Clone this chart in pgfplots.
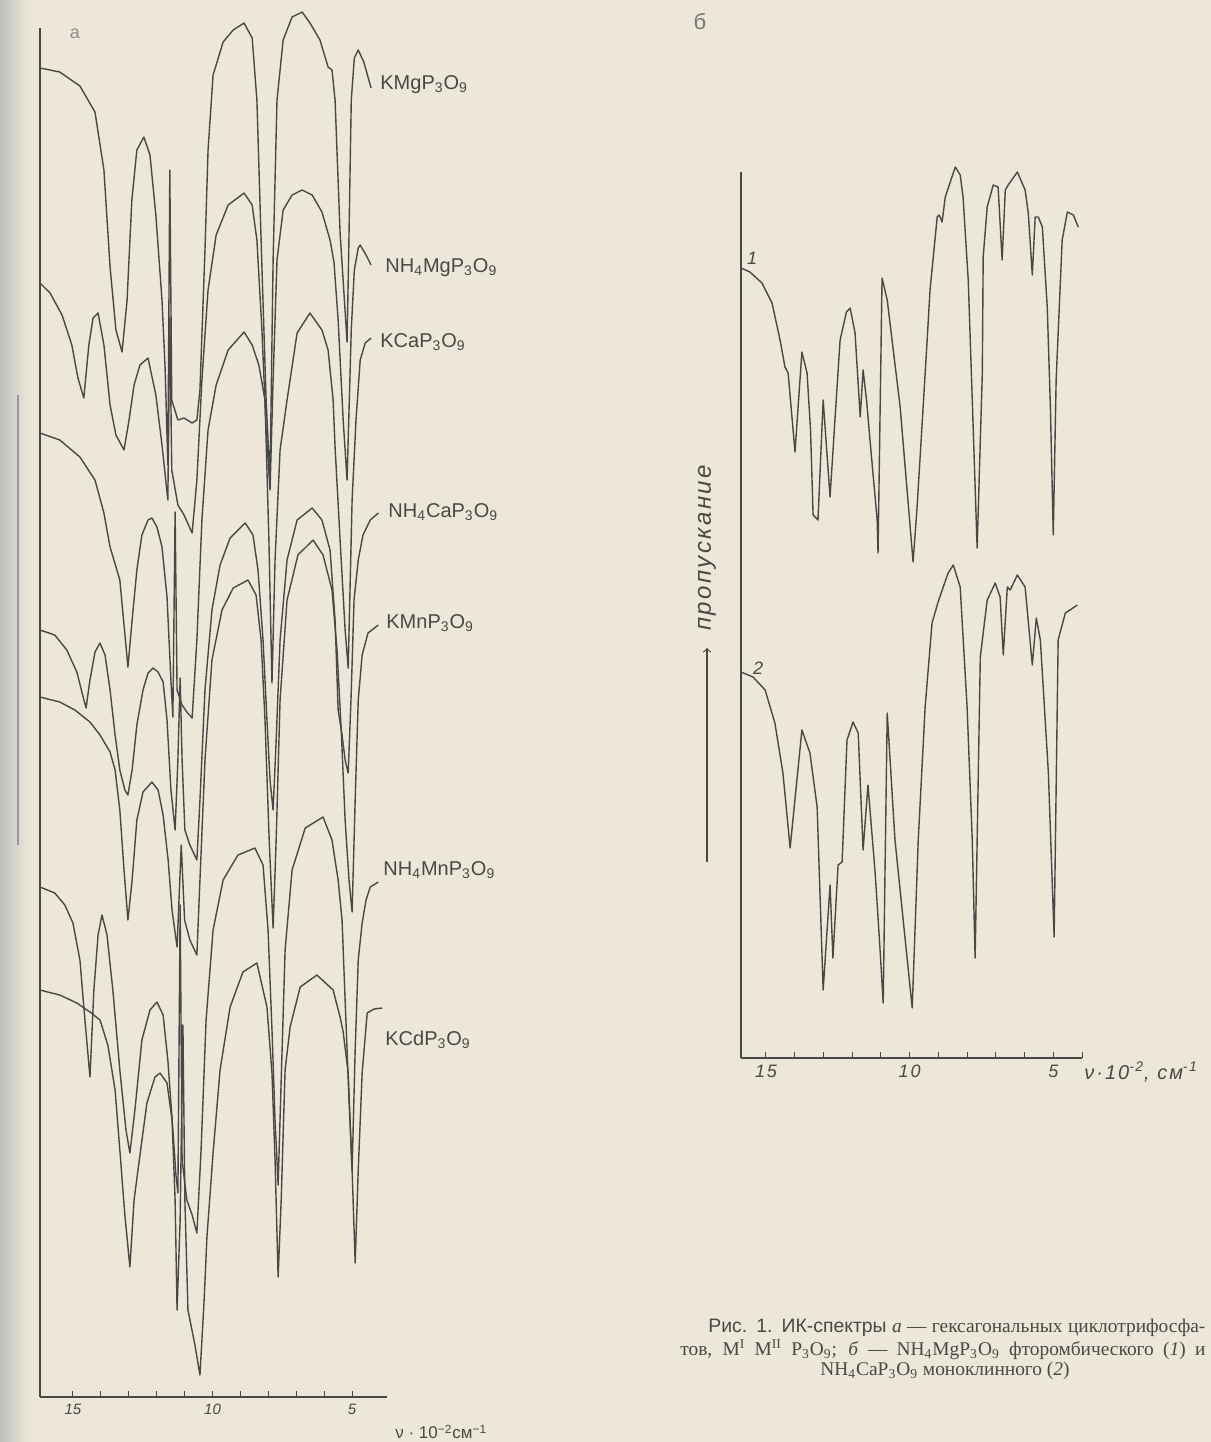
\documentclass[border=0pt]{standalone}
\usepackage{fontspec}
\setmainfont{Liberation Serif}
\setsansfont{Liberation Sans}
\newfontfamily\hand[LetterSpace=10]{Liberation Sans}
\usepackage{pgfplots}
\pgfplotsset{compat=1.18}
\definecolor{paper}{RGB}{236,231,216}
\definecolor{ink}{RGB}{72,72,70}
\pgfplotsset{spec/.style={ink, line width=0.7pt, line join=round, mark=none}}
\begin{document}
\begin{tikzpicture}
\path[use as bounding box] (0,0) rectangle (605.5pt,-721pt);
\fill[paper] (0,0) rectangle (605.5pt,-721pt);
\shade[left color=black!25, right color=paper] (0,0) rectangle (14pt,-721pt);
\draw[black!40, line width=1pt] (9pt,-197.5pt) -- (9pt,-422.5pt);

% ---------------- panel a ----------------
\begin{axis}[
  at={(20pt,-698.5pt)}, anchor=south west,
  width=173.5pt, height=684.5pt, scale only axis,
  x dir=reverse, xmin=3.75, xmax=16.18, ymin=-1397, ymax=-28,
  axis x line=bottom, axis y line=left,
  axis line style={-, ink, line width=0.6pt},
  xtick={5,...,15}, xticklabels={5,,,,,10,,,,,15}, ytick=\empty,
  xtick align=inside, major tick length=3pt,
  tick style={ink, line width=0.5pt},
  xticklabel style={font=\sffamily\itshape\fontsize{7.5}{8}\selectfont, text=ink},
  clip=false]
% KMgP3O9
\addplot[spec] coordinates {(16.18,-68)(15.47,-72)(14.75,-86)(14.21,-112)(13.89,-170)(13.67,-267)(13.46,-330)(13.24,-352)(13.06,-300)(12.89,-200)(12.71,-150)(12.46,-137)(12.24,-155)(12.03,-215)(11.81,-300)(11.70,-367)(11.60,-465)(11.53,-170)(11.46,-400)(11.24,-420)(11.02,-418)(10.73,-423)(10.56,-420)(10.45,-390)(10.27,-250)(10.16,-150)(9.98,-75)(9.62,-42)(9.26,-30)(8.87,-23)(8.58,-38)(8.41,-100)(8.23,-267)(8.08,-400)(7.94,-480)(7.83,-260)(7.69,-100)(7.47,-40)(7.15,-17)(6.79,-12)(6.51,-23)(6.15,-40)(5.86,-67)(5.72,-70)(5.61,-100)(5.43,-233)(5.18,-342)(5.12,-250)(5.03,-100)(4.92,-58)(4.78,-50)(4.58,-62)(4.32,-88)};
% NH4MgP3O9
\addplot[spec] coordinates {(16.18,-283)(15.82,-293)(15.39,-315)(15.04,-345)(14.82,-378)(14.61,-398)(14.43,-345)(14.28,-318)(14.10,-313)(13.89,-345)(13.67,-405)(13.46,-435)(13.17,-450)(12.99,-420)(12.81,-385)(12.60,-365)(12.31,-358)(12.03,-395)(11.81,-445)(11.60,-500)(11.53,-318)(11.46,-470)(11.24,-505)(11.02,-515)(10.73,-533)(10.56,-480)(10.38,-380)(10.16,-290)(9.87,-235)(9.44,-205)(8.87,-193)(8.58,-205)(8.41,-240)(8.23,-330)(8.08,-430)(7.94,-490)(7.83,-380)(7.69,-260)(7.47,-210)(7.15,-195)(6.79,-190)(6.43,-195)(6.08,-212)(5.79,-240)(5.65,-262)(5.50,-320)(5.32,-420)(5.18,-480)(5.10,-400)(5.03,-330)(4.92,-270)(4.78,-248)(4.71,-245)(4.50,-255)(4.32,-265)};
% KCaP3O9
\addplot[spec] coordinates {(16.18,-433)(15.47,-440)(14.75,-457)(14.21,-480)(13.89,-513)(13.67,-547)(13.32,-580)(13.21,-613)(13.03,-667)(12.88,-620)(12.71,-570)(12.53,-535)(12.31,-520)(12.17,-518)(11.99,-527)(11.81,-547)(11.63,-597)(11.49,-680)(11.42,-717)(11.34,-512)(11.27,-690)(11.09,-705)(10.92,-712)(10.73,-718)(10.56,-640)(10.38,-520)(10.16,-430)(9.87,-385)(9.44,-350)(8.87,-332)(8.58,-345)(8.34,-365)(8.12,-400)(7.98,-540)(7.87,-683)(7.76,-560)(7.58,-450)(7.33,-400)(6.97,-333)(6.51,-313)(6.08,-330)(5.86,-350)(5.68,-400)(5.61,-447)(5.43,-540)(5.25,-630)(5.14,-668)(5.00,-500)(4.86,-420)(4.71,-360)(4.53,-343)(4.32,-338)};
% NH4CaP3O9
\addplot[spec] coordinates {(16.18,-630)(15.65,-635)(15.22,-650)(14.86,-672)(14.68,-692)(14.53,-708)(14.39,-680)(14.21,-652)(14.03,-643)(13.85,-655)(13.67,-690)(13.49,-735)(13.32,-770)(13.14,-790)(13.03,-795)(12.88,-770)(12.71,-725)(12.49,-690)(12.31,-673)(12.13,-668)(11.95,-672)(11.77,-682)(11.63,-720)(11.49,-790)(11.34,-830)(11.24,-760)(11.16,-678)(11.09,-760)(10.99,-830)(10.81,-845)(10.56,-860)(10.45,-800)(10.27,-690)(10.02,-610)(9.73,-565)(9.37,-538)(8.83,-523)(8.55,-535)(8.37,-570)(8.19,-640)(8.05,-720)(7.94,-780)(7.83,-810)(7.72,-740)(7.58,-640)(7.33,-560)(6.97,-520)(6.43,-508)(6.08,-520)(5.79,-550)(5.61,-620)(5.50,-710)(5.36,-735)(5.25,-760)(5.14,-773)(5.04,-700)(4.93,-600)(4.78,-560)(4.61,-535)(4.35,-520)(4.06,-513)};
% KMnP3O9
\addplot[spec] coordinates {(16.18,-697)(15.47,-702)(14.93,-710)(14.39,-722)(14.03,-735)(13.67,-752)(13.49,-770)(13.32,-810)(13.17,-870)(13.03,-920)(12.88,-880)(12.71,-820)(12.49,-792)(12.17,-782)(11.95,-790)(11.77,-815)(11.59,-860)(11.45,-910)(11.27,-947)(11.12,-845)(11.00,-920)(10.81,-940)(10.56,-955)(10.45,-880)(10.27,-760)(10.02,-660)(9.66,-610)(9.26,-588)(8.73,-580)(8.44,-595)(8.26,-640)(8.12,-720)(7.97,-840)(7.83,-928)(7.72,-840)(7.58,-700)(7.33,-600)(6.94,-555)(6.40,-540)(6.04,-555)(5.72,-590)(5.54,-650)(5.39,-730)(5.25,-820)(5.11,-880)(5.00,-912)(4.89,-800)(4.78,-700)(4.64,-655)(4.43,-633)(4.06,-625)};
% NH4MnP3O9
\addplot[spec] coordinates {(16.18,-887)(15.65,-893)(15.29,-905)(15.00,-923)(14.75,-960)(14.57,-1020)(14.39,-1077)(14.25,-990)(14.10,-935)(13.96,-915)(13.78,-935)(13.57,-990)(13.32,-1070)(13.10,-1130)(12.96,-1153)(12.78,-1110)(12.53,-1040)(12.24,-1010)(11.99,-1002)(11.77,-1015)(11.60,-1060)(11.42,-1130)(11.31,-1175)(11.24,-1193)(11.16,-905)(11.09,-1160)(10.92,-1200)(10.73,-1215)(10.56,-1233)(10.41,-1150)(10.23,-1020)(9.98,-930)(9.62,-880)(9.09,-855)(8.48,-848)(8.19,-865)(8.01,-930)(7.87,-1030)(7.76,-1120)(7.65,-1185)(7.54,-1080)(7.40,-950)(7.15,-870)(6.68,-828)(6.04,-817)(5.72,-840)(5.50,-880)(5.36,-920)(5.25,-1000)(5.11,-1100)(5.00,-1170)(4.89,-1050)(4.78,-960)(4.64,-923)(4.50,-900)(4.35,-887)(4.06,-882)};
% KCdP3O9
\addplot[spec] coordinates {(16.18,-990)(15.47,-995)(14.86,-1003)(14.39,-1012)(14.03,-1020)(13.75,-1045)(13.49,-1090)(13.32,-1150)(13.14,-1215)(12.96,-1267)(12.81,-1200)(12.67,-1170)(12.35,-1103)(12.06,-1077)(11.88,-1073)(11.63,-1083)(11.45,-1120)(11.34,-1200)(11.27,-1310)(11.16,-1220)(11.06,-1025)(10.99,-1200)(10.88,-1310)(10.63,-1345)(10.45,-1375)(10.30,-1300)(10.20,-1237)(9.98,-1153)(9.73,-1070)(9.37,-1007)(8.91,-972)(8.41,-963)(8.05,-1007)(7.87,-1073)(7.76,-1160)(7.65,-1277)(7.54,-1200)(7.40,-1070)(7.22,-1027)(6.86,-987)(6.26,-975)(5.68,-990)(5.43,-1017)(5.32,-1032)(5.14,-1073)(5.00,-1170)(4.89,-1263)(4.78,-1170)(4.64,-1073)(4.46,-1013)(4.21,-1009)(3.92,-1008)};
\end{axis}

% ---------------- panel b ----------------
\begin{axis}[
  at={(370.5pt,-529pt)}, anchor=south west,
  width=170.5pt, height=443pt, scale only axis,
  x dir=reverse, xmin=4, xmax=15.87, ymin=-1058, ymax=-172,
  axis x line=bottom, axis y line=left,
  axis line style={-, ink, line width=0.6pt},
  xtick={4,...,15}, xticklabels={,5,,,,,10,,,,,15}, ytick=\empty,
  xtick align=inside, major tick length=3pt,
  tick style={ink, line width=0.5pt},
  xticklabel style={font=\hand\itshape\fontsize{9}{10}\selectfont, text=ink},
  clip=false]
\addplot[spec] coordinates {(15.87,-268)(15.56,-272)(15.14,-283)(14.79,-303)(14.51,-340)(14.34,-367)(14.23,-373)(13.99,-452)(13.75,-352)(13.57,-373)(13.45,-430)(13.36,-515)(13.19,-520)(13.01,-400)(12.77,-497)(12.60,-420)(12.42,-340)(12.20,-312)(12.07,-308)(11.90,-333)(11.72,-417)(11.62,-370)(11.50,-400)(11.38,-440)(11.13,-520)(11.10,-553)(10.96,-278)(10.78,-300)(10.33,-407)(9.88,-562)(9.74,-507)(9.53,-407)(9.39,-340)(9.29,-290)(9.04,-217)(8.97,-215)(8.87,-222)(8.76,-197)(8.41,-167)(8.24,-175)(8.14,-197)(7.96,-280)(7.82,-400)(7.65,-548)(7.47,-373)(7.44,-257)(7.30,-207)(7.09,-185)(6.92,-187)(6.78,-260)(6.67,-190)(6.57,-185)(6.25,-172)(5.98,-190)(5.87,-213)(5.73,-275)(5.63,-217)(5.52,-217)(5.38,-227)(5.21,-307)(5.10,-407)(5.00,-535)(4.90,-380)(4.69,-240)(4.51,-212)(4.30,-215)(4.13,-227)};
\addplot[spec] coordinates {(15.87,-672)(15.45,-677)(15.03,-690)(14.69,-723)(14.41,-773)(14.16,-848)(13.75,-730)(13.47,-753)(13.22,-807)(13.01,-990)(12.77,-885)(12.67,-958)(12.49,-865)(12.35,-862)(12.18,-740)(11.97,-722)(11.79,-733)(11.62,-850)(11.45,-785)(11.20,-873)(11.05,-940)(10.92,-1003)(10.78,-713)(10.51,-840)(9.91,-1008)(9.70,-840)(9.46,-707)(9.22,-623)(9.01,-602)(8.66,-573)(8.48,-565)(8.24,-587)(8.00,-707)(7.82,-840)(7.72,-958)(7.54,-657)(7.30,-600)(7.02,-583)(6.85,-597)(6.74,-655)(6.60,-587)(6.50,-590)(6.25,-575)(5.98,-587)(5.73,-665)(5.59,-618)(5.45,-640)(5.17,-773)(4.97,-937)(4.83,-640)(4.58,-613)(4.16,-605)};
\end{axis}

% ---------------- texts ----------------
\begin{scope}[every node/.style={text=ink, inner sep=0pt}]
\node[font=\sffamily\fontsize{9}{10}\selectfont, text=black!45] at (37.5pt,-17pt) {а};
\node[font=\sffamily\fontsize{11}{12}\selectfont, text=black!55] at (350pt,-11pt) {б};
\begin{scope}[every node/.append style={anchor=west, font=\sffamily\fontsize{10}{12}\selectfont}]
\node at (190pt,-42.5pt) {KMgP\textsubscript{3}O\textsubscript{9}};
\node at (192.5pt,-134pt) {NH\textsubscript{4}MgP\textsubscript{3}O\textsubscript{9}};
\node at (190pt,-171pt) {KCaP\textsubscript{3}O\textsubscript{9}};
\node at (194pt,-256pt) {NH\textsubscript{4}CaP\textsubscript{3}O\textsubscript{9}};
\node at (193pt,-311.5pt) {KMnP\textsubscript{3}O\textsubscript{9}};
\node at (191.5pt,-435pt) {NH\textsubscript{4}MnP\textsubscript{3}O\textsubscript{9}};
\node at (192.5pt,-520pt) {KCdP\textsubscript{3}O\textsubscript{9}};
\end{scope}
\node[anchor=west, font=\sffamily\fontsize{8.5}{10}\selectfont] at (197.5pt,-716pt) {ν · 10\textsuperscript{−2}см\textsuperscript{−1}};
\node[anchor=west, font=\hand\itshape\fontsize{10}{12}\selectfont] at (542pt,-536pt) {ν·10\textsuperscript{-2}, см\textsuperscript{-1}};
\node[font=\hand\itshape\fontsize{9}{10}\selectfont] at (376pt,-129pt) {1};
\node[font=\hand\itshape\fontsize{9}{10}\selectfont] at (379pt,-334pt) {2};
\draw[->, ink, line width=0.6pt] (353.5pt,-431pt) -- (353.5pt,-324pt);
\node[rotate=90, font=\hand\itshape\fontsize{12}{14}\selectfont] at (353.5pt,-274pt) {пропускание};
\node[anchor=west, font=\fontsize{9.7}{11}\selectfont] at (354pt,-664pt) {\hbox to 248.5pt{{\sffamily Рис. 1. ИК-спектры} \textit{а} — гексагональных циклотрифосфа-}};
\node[anchor=west, font=\fontsize{9.7}{11}\selectfont] at (340pt,-675pt) {\hbox to 262.5pt{тов, M\textsuperscript{I} M\textsuperscript{II} P\textsubscript{3}O\textsubscript{9}; \textit{б} — NH\textsubscript{4}MgP\textsubscript{3}O\textsubscript{9} фторомбического (\textit{1}) и}};
\node[font=\fontsize{9.7}{11}\selectfont] at (472.5pt,-685.5pt) {NH\textsubscript{4}CaP\textsubscript{3}O\textsubscript{9} моноклинного (\textit{2})};
\end{scope}
\end{tikzpicture}
\end{document}
